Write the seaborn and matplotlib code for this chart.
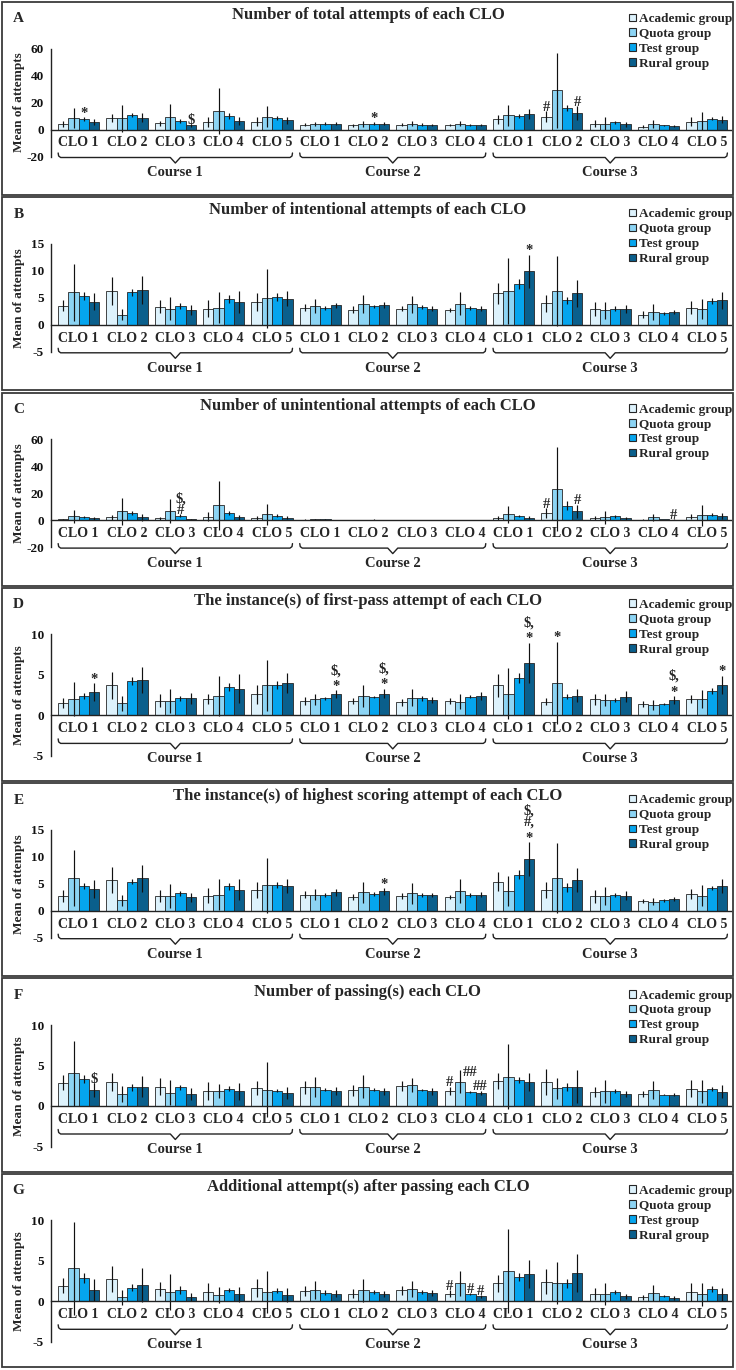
import numpy as np
import pandas as pd
import matplotlib
matplotlib.use("Agg")
import matplotlib.pyplot as plt
import seaborn as sns
from matplotlib.patches import Rectangle, Patch
from matplotlib.transforms import blended_transform_factory

# ---------------- data ----------------
groups = ["Academic group", "Quota group", "Test group", "Rural group"]
colors = ["#DDF2FC", "#8CD4F4", "#05A5EE", "#0A5F8C"]
clo_labels = ["CLO 1", "CLO 2", "CLO 3", "CLO 4", "CLO 5",
              "CLO 1", "CLO 2", "CLO 3", "CLO 4",
              "CLO 1", "CLO 2", "CLO 3", "CLO 4", "CLO 5"]
courses = ["Course 1", "Course 2", "Course 3"]
course_sizes = [5, 4, 5]

# A: total attempts (rows: Academic, Quota, Test, Rural)
total_mean = [
    [4.0, 8.5, 4.5, 5.5, 5.7, 3.7, 3.2, 3.5, 3.2, 7.6, 9.4, 4.4, 2.2, 5.7],
    [8.5, 8.2, 9.5, 14.0, 9.6, 4.2, 4.2, 4.2, 4.2, 10.4, 29.0, 4.4, 4.2, 6.2],
    [7.7, 11.0, 6.5, 10.0, 8.6, 4.4, 4.4, 3.7, 3.5, 9.9, 15.6, 5.4, 3.0, 8.1],
    [5.5, 8.7, 3.0, 6.0, 6.9, 4.4, 4.2, 3.5, 3.4, 11.4, 12.3, 4.0, 2.7, 7.4]]
total_sd = [
    [2.0, 3.0, 2.0, 4.0, 3.4, 1.3, 1.0, 1.0, 0.8, 3.2, 4.2, 2.8, 0.8, 3.4],
    [7.5, 10.0, 9.5, 17.0, 7.7, 1.5, 2.2, 1.8, 1.8, 8.0, 27.7, 4.7, 3.2, 6.6],
    [1.3, 1.5, 1.5, 2.0, 1.3, 1.0, 0.8, 0.8, 0.8, 1.7, 2.2, 1.0, 0.5, 1.2],
    [2.0, 3.5, 1.2, 3.0, 2.7, 1.0, 1.0, 0.8, 0.8, 3.5, 5.2, 1.8, 0.5, 2.7]]

# B: intentional attempts
intent_mean = [
    [3.5, 6.3, 3.3, 3.0, 4.2, 3.2, 2.8, 3.0, 2.8, 5.8, 4.0, 2.9, 1.9, 3.2],
    [6.0, 1.9, 3.0, 3.2, 4.9, 3.4, 3.8, 3.8, 3.9, 6.3, 6.2, 2.7, 2.4, 2.9],
    [5.3, 6.0, 3.5, 4.8, 5.1, 3.1, 3.4, 3.3, 3.1, 7.5, 4.5, 3.0, 2.1, 4.4],
    [4.3, 6.5, 2.7, 4.2, 4.8, 3.6, 3.7, 3.0, 3.0, 9.9, 5.8, 2.9, 2.4, 4.5]]
intent_sd = [
    [1.0, 2.6, 1.2, 1.5, 1.6, 0.6, 0.6, 0.5, 0.4, 2.0, 1.6, 1.3, 0.7, 1.2],
    [5.3, 1.1, 2.2, 2.8, 5.5, 1.3, 1.7, 1.6, 2.1, 6.1, 6.5, 1.6, 1.5, 1.9],
    [0.7, 0.7, 0.6, 0.8, 0.7, 0.3, 0.3, 0.3, 0.3, 0.9, 0.6, 0.4, 0.2, 0.6],
    [1.5, 2.6, 0.9, 2.0, 1.4, 0.5, 0.6, 0.4, 0.5, 3.1, 2.5, 0.8, 0.4, 1.5]]

# C: unintentional attempts
unint_mean = [
    [0.5, 2.0, 1.2, 2.5, 1.5, 0.3, 0.1, 0.1, 0.1, 1.8, 5.2, 1.5, 0.3, 2.5],
    [2.8, 6.5, 6.5, 11.0, 4.3, 0.5, 0.2, 0.2, 0.2, 4.2, 23.0, 2.0, 2.0, 3.5],
    [2.2, 5.0, 3.3, 5.5, 3.2, 0.5, 0.4, 0.2, 0.2, 3.0, 10.8, 2.7, 0.8, 4.0],
    [1.2, 2.0, 0.5, 2.0, 1.8, 0.2, 0.2, 0.1, 0.2, 1.8, 6.5, 1.2, 0.3, 3.0]]
unint_sd = [
    [0.5, 1.8, 1.0, 3.5, 1.2, 0.2, 0.1, 0.1, 0.1, 1.5, 3.8, 1.5, 0.3, 2.0],
    [4.6, 10.0, 9.0, 18.0, 7.7, 0.3, 0.2, 0.2, 0.2, 6.0, 31.0, 5.0, 2.7, 7.5],
    [0.7, 1.5, 1.0, 1.5, 1.0, 0.2, 0.2, 0.1, 0.1, 0.8, 3.0, 0.8, 0.3, 1.0],
    [0.8, 2.5, 0.3, 2.0, 1.0, 0.2, 0.1, 0.1, 0.1, 1.2, 5.0, 0.8, 0.2, 2.0]]

# D: first-pass attempt
first_mean = [
    [1.5, 3.7, 1.8, 2.0, 2.6, 1.8, 1.8, 1.6, 1.8, 3.7, 1.7, 2.0, 1.4, 2.0],
    [2.0, 1.5, 1.8, 2.4, 3.7, 2.0, 2.4, 2.2, 1.7, 2.7, 4.0, 1.9, 1.3, 2.0],
    [2.4, 4.3, 2.1, 3.5, 3.8, 2.1, 2.3, 2.1, 2.3, 4.6, 2.3, 1.9, 1.4, 3.0],
    [2.9, 4.4, 2.1, 3.3, 4.0, 2.6, 2.7, 1.9, 2.4, 6.5, 2.4, 2.3, 1.9, 3.8]]
first_sd = [
    [0.6, 1.7, 0.8, 0.6, 1.2, 0.5, 0.4, 0.4, 0.4, 1.4, 0.4, 0.7, 0.4, 0.5],
    [2.1, 0.9, 1.5, 2.5, 3.1, 0.7, 1.4, 1.1, 0.9, 3.1, 5.1, 0.8, 0.6, 1.1],
    [0.4, 0.5, 0.3, 0.5, 0.5, 0.2, 0.15, 0.3, 0.2, 0.6, 0.3, 0.2, 0.1, 0.4],
    [1.1, 1.6, 0.7, 1.8, 1.2, 0.5, 0.6, 0.4, 0.5, 2.5, 0.8, 0.7, 0.5, 1.1]]

# E: highest scoring attempt
high_mean = [
    [2.7, 5.7, 2.8, 2.8, 3.9, 3.0, 2.5, 2.7, 2.5, 5.4, 3.9, 2.7, 1.8, 3.1],
    [6.0, 1.9, 2.7, 3.0, 4.7, 3.0, 3.4, 3.2, 3.6, 3.7, 6.0, 2.7, 1.7, 2.8],
    [4.6, 5.4, 3.2, 4.5, 4.8, 2.9, 3.1, 2.9, 2.9, 6.7, 4.3, 2.9, 1.9, 4.2],
    [4.0, 6.0, 2.5, 3.9, 4.6, 3.4, 3.6, 2.9, 3.0, 9.6, 5.7, 2.8, 2.2, 4.6]]
high_sd = [
    [1.1, 2.4, 1.1, 1.4, 1.5, 0.6, 0.6, 0.6, 0.4, 1.7, 1.5, 1.2, 0.4, 1.0],
    [5.2, 1.0, 2.2, 2.8, 5.1, 1.0, 1.9, 1.9, 2.2, 2.8, 6.5, 1.6, 0.6, 2.0],
    [0.6, 0.5, 0.5, 0.7, 0.6, 0.3, 0.3, 0.3, 0.3, 0.8, 0.8, 0.3, 0.2, 0.4],
    [1.6, 2.5, 0.8, 2.0, 1.3, 0.6, 0.6, 0.4, 0.5, 3.1, 2.3, 0.8, 0.4, 1.3]]

# F: number of passings
pass_mean = [
    [2.9, 3.0, 2.4, 1.9, 2.2, 2.3, 1.95, 2.45, 1.9, 3.05, 3.0, 1.75, 1.5, 2.15],
    [4.05, 1.5, 1.65, 1.85, 2.0, 2.35, 2.4, 2.6, 3.0, 3.6, 2.2, 1.8, 2.0, 1.8],
    [3.35, 2.3, 2.3, 2.15, 1.9, 2.0, 2.0, 2.0, 1.7, 3.2, 2.4, 1.85, 1.4, 2.1],
    [2.0, 2.4, 1.5, 1.8, 1.6, 1.9, 1.8, 1.8, 1.6, 3.0, 2.4, 1.45, 1.4, 1.75]]
pass_sd = [
    [0.9, 1.1, 1.0, 1.1, 0.9, 0.8, 0.7, 0.6, 0.5, 1.0, 1.6, 0.6, 0.4, 1.0],
    [4.0, 1.0, 1.5, 0.9, 3.4, 1.2, 1.4, 0.9, 1.4, 4.0, 1.3, 1.4, 1.1, 1.4],
    [0.5, 0.4, 0.3, 0.3, 0.2, 0.2, 0.2, 0.1, 0.1, 0.4, 0.5, 0.25, 0.1, 0.2],
    [0.85, 1.3, 0.7, 1.0, 0.7, 0.5, 0.4, 0.4, 0.3, 1.1, 2.0, 0.4, 0.2, 0.8]]

# G: additional attempts after passing
add_mean = [
    [1.95, 2.7, 1.5, 1.1, 1.6, 1.3, 0.95, 1.35, 0.95, 2.25, 2.4, 0.9, 0.5, 1.15],
    [4.05, 0.5, 1.15, 0.8, 1.15, 1.4, 1.35, 1.5, 2.2, 3.75, 2.25, 0.85, 1.05, 0.85],
    [2.9, 1.7, 1.4, 1.4, 1.3, 1.05, 1.15, 1.15, 0.9, 3.0, 2.2, 1.15, 0.65, 1.5],
    [1.4, 2.0, 0.55, 0.85, 0.8, 0.95, 0.9, 1.0, 0.6, 3.35, 3.45, 0.6, 0.4, 0.85]]
add_sd = [
    [0.9, 1.6, 0.9, 1.1, 1.1, 0.65, 0.55, 0.6, 0.4, 1.05, 1.55, 0.7, 0.3, 1.1],
    [5.75, 0.95, 2.2, 0.95, 2.65, 1.1, 1.4, 0.95, 1.5, 5.2, 2.55, 1.35, 1.0, 1.4],
    [0.6, 0.45, 0.5, 0.3, 0.3, 0.3, 0.2, 0.3, 0.1, 0.5, 0.6, 0.3, 0.1, 0.35],
    [1.4, 2.1, 0.5, 0.95, 0.9, 0.4, 0.4, 0.35, 0.2, 1.7, 2.35, 0.3, 0.2, 0.8]]

# significance marks: (category index, group index, text)
total_marks = [(0, 2, "*"), (2, 3, "$"), (6, 2, "*"), (10, 0, "#"), (10, 3, "#")]
intent_marks = [(9, 3, "*")]
unint_marks = [(2, 2, "$,\n#"), (10, 0, "#"), (10, 3, "#"), (12, 3, "#")]
first_marks = [(0, 3, "*"), (5, 3, "$,\n*"), (6, 3, "$,\n*"), (9, 3, "$,\n*"),
               (10, 1, "*"), (12, 3, "$,\n*"), (13, 3, "*")]
high_marks = [(6, 3, "*"), (9, 3, "$,\n#,\n*")]
pass_marks = [(0, 3, "$"), (8, 0, "#"), (8, 2, "##"), (8, 3, "##")]
add_marks = [(8, 0, "#"), (8, 2, "#"), (8, 3, "#")]

panels = [
    ("A", "Number of total attempts of each CLO", total_mean, total_sd, (-20, 60, 20), total_marks),
    ("B", "Number of intentional attempts of each CLO", intent_mean, intent_sd, (-5, 15, 5), intent_marks),
    ("C", "Number of unintentional attempts of each CLO", unint_mean, unint_sd, (-20, 60, 20), unint_marks),
    ("D", "The instance(s) of first-pass attempt of each CLO", first_mean, first_sd, (-5, 10, 5), first_marks),
    ("E", "The instance(s) of highest scoring attempt of each CLO", high_mean, high_sd, (-5, 15, 5), high_marks),
    ("F", "Number of passing(s) each CLO", pass_mean, pass_sd, (-5, 10, 5), pass_marks),
    ("G", "Additional attempt(s) after passing each CLO", add_mean, add_sd, (-5, 10, 5), add_marks),
]

# ---------------- style ----------------
sns.set_style("white")
plt.rcParams["font.family"] = ["Liberation Serif", "DejaVu Serif"]
plt.rcParams["font.weight"] = "bold"
plt.rcParams["axes.labelweight"] = "bold"

W, H = 736, 1370
fig = plt.figure(figsize=(W / 100, H / 100), dpi=100)
fig.patch.set_facecolor("white")

PANEL_H = 195.3
AX_L, AX_R = 51, 731
cat_keys = [f"k{i}" for i in range(len(clo_labels))]


def fx(x):
    return x / W


def fy(y):
    return 1 - y / H


for i, (letter, title, means, sds, (ymin, ymax, ystep), marks) in enumerate(panels):
    top = 1 + i * PANEL_H
    # frame
    fig.patches.append(Rectangle((fx(2), fy(top + PANEL_H - 1.2)), fx(731), (PANEL_H - 2.2) / H,
                                 transform=fig.transFigure, fill=False,
                                 edgecolor="#3a3a3a", linewidth=1.3, zorder=0))
    ax_top = top + 47.5
    zero = top + 128.5
    unit = (zero - ax_top) / ymax
    ax_bot = zero + (-ymin) * unit
    ax = fig.add_axes([fx(AX_L), fy(ax_bot), fx(AX_R - AX_L), (ax_bot - ax_top) / H])
    ax.patch.set_alpha(0)

    rows = []
    for g, grp in enumerate(groups):
        for k, key in enumerate(cat_keys):
            rows.append({"cat": key, "group": grp, "mean": means[g][k]})
    df = pd.DataFrame(rows)
    sns.barplot(data=df, x="cat", y="mean", hue="group", order=cat_keys, hue_order=groups,
                palette=colors, saturation=1, width=0.85, errorbar=None,
                edgecolor="#262626", linewidth=0.6, legend=False, ax=ax, zorder=2)

    bar_conts = list(ax.containers)
    bar_info = {}
    for g, cont in enumerate(bar_conts):
        xs, ys = [], []
        for k, bar in enumerate(cont.patches):
            xc = bar.get_x() + bar.get_width() / 2
            xs.append(xc)
            ys.append(bar.get_height())
            bar_info[(k, g)] = (xc, bar.get_height() + sds[g][k])
        ax.errorbar(xs, ys, yerr=sds[g], fmt="none", ecolor="#111111",
                    elinewidth=0.85, capsize=0, zorder=3)

    for (k, g, txt) in marks:
        xc, yt = bar_info[(k, g)]
        off = 9 if (letter == "F" and txt == "##" and g == 2) else -2
        for line in txt.split("\n")[::-1]:
            ax.annotate(line, (xc, yt), xytext=(0, off), textcoords="offset points",
                        ha="center", va="bottom", fontsize=10.5, fontweight="bold",
                        annotation_clip=False, zorder=4)
            off += 11.5 if line.startswith("*") else 8.5

    ax.set_xlim(-0.573, 13.5)
    ax.set_ylim(ymin, ymax)
    ax.set_yticks(np.arange(ymin, ymax + 0.1, ystep))
    ax.set_yticklabels([f"{int(v)}" for v in np.arange(ymin, ymax + 0.1, ystep)],
                       fontsize=9.5, fontweight="bold")
    ax.set_xticks(range(len(clo_labels)))
    ax.set_xticklabels(clo_labels, fontsize=9, fontweight="bold")
    for s in ["top", "right"]:
        ax.spines[s].set_visible(False)
    ax.spines["bottom"].set_position(("data", 0))
    ax.spines["bottom"].set_color("#222222")
    ax.spines["bottom"].set_linewidth(1.0)
    ax.spines["bottom"].set_zorder(5)
    ax.spines["left"].set_color("#222222")
    ax.spines["left"].set_linewidth(1.0)
    ax.tick_params(axis="x", length=0, pad=5)
    ax.tick_params(axis="y", length=3, width=1.0, direction="out", pad=2, colors="#111111")
    ax.set_xlabel("")
    ax.set_ylabel("Mean of attempts", fontsize=9.5, fontweight="bold")
    ax.yaxis.set_label_coords((25 - AX_L) / (AX_R - AX_L), 0.5)

    # course braces
    bt = blended_transform_factory(ax.transData, fig.transFigure)
    dpx = 1 / 48.33
    start = 0
    for cname, n in zip(courses, course_sizes):
        x0 = start - 0.425
        x1 = start + n - 1 + 0.425
        xc = (x0 + x1) / 2
        yt_, ym_, ytip = top + 152, top + 156.5, top + 162
        bx = [x0, x0 + dpx * 0.5, x0 + dpx * 2.5, xc - dpx * 5, xc, xc + dpx * 5,
              x1 - dpx * 2.5, x1 - dpx * 0.5, x1]
        by = [yt_, ym_ - 1.5, ym_, ym_, ytip, ym_, ym_, ym_ - 1.5, yt_]
        ax.plot(bx, [fy(v) for v in by], transform=bt, color="#222222",
                linewidth=1.0, clip_on=False)
        ax.text(xc, fy(top + 172), cname, transform=bt, ha="center", va="center",
                fontsize=10.5, fontweight="bold")
        start += n

    # letter and title
    fig.text(fx(18.5), fy(top + 18), letter, ha="center", va="center",
             fontsize=11, fontweight="bold")
    fig.text(fx(368), fy(top + 14), title, ha="center", va="center",
             fontsize=12, fontweight="bold")

    # legend
    handles = [Patch(facecolor=c, edgecolor="#262626", linewidth=0.8) for c in colors]
    ax.legend(handles, groups, loc="upper left", bbox_to_anchor=(fx(629), fy(top + 12)),
              bbox_transform=fig.transFigure, frameon=False,
              handlelength=0.5, handleheight=0.5, handletextpad=0.25,
              labelspacing=0.22, borderpad=0, borderaxespad=0,
              prop={"weight": "bold", "size": 9.5})

fig.savefig("out.png", dpi=100, facecolor="white")
